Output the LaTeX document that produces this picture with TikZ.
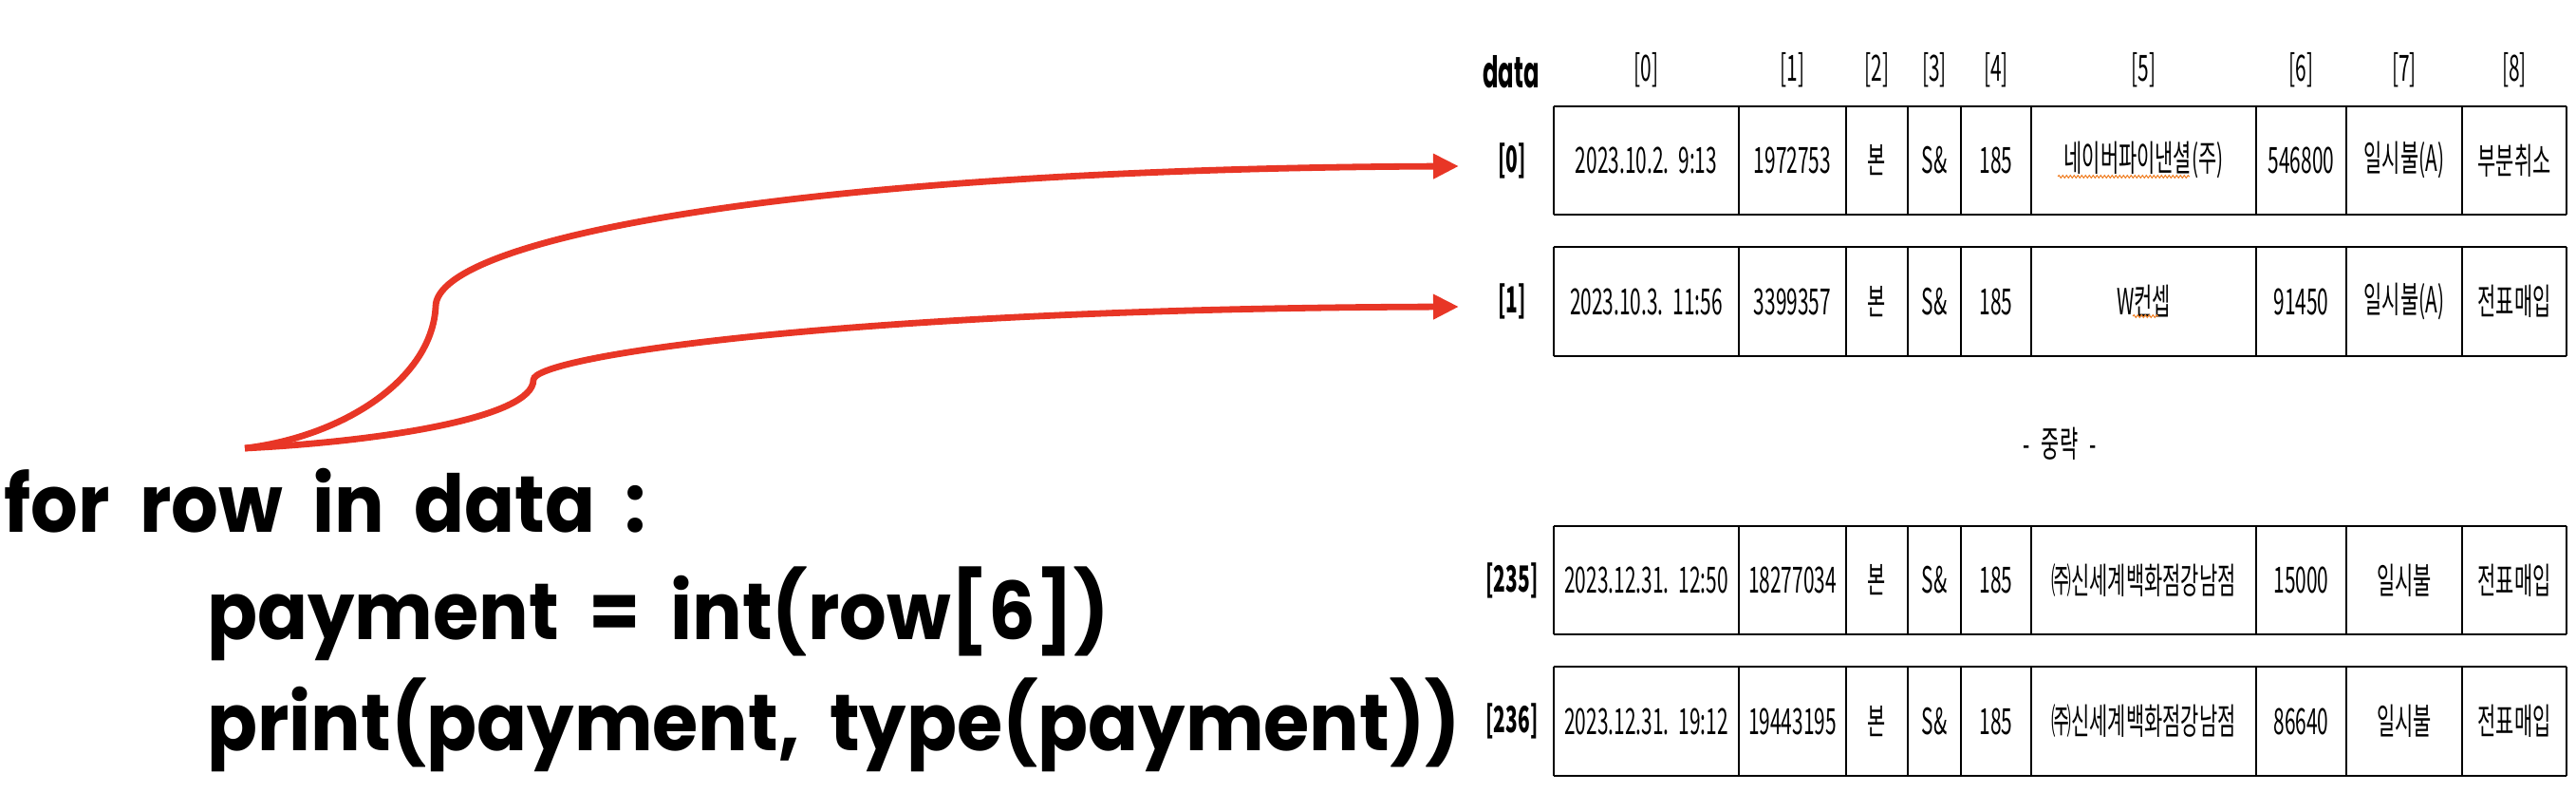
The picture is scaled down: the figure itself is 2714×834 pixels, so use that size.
\documentclass[tikz,border=0pt]{standalone}
\usepackage{fontspec}
\usetikzlibrary{arrows.meta,decorations.pathmorphing}
\newfontfamily\tblfont[FakeStretch=0.55]{Noto Sans CJK KR}
\newfontfamily\codefont[FakeStretch=0.93,WordSpace=1.9]{Poppins}
\newfontfamily\datafont[FakeStretch=0.53]{Poppins}
\definecolor{arrred}{RGB}{232,54,38}
\definecolor{squigor}{RGB}{240,130,40}
\newcommand\myrow[4]{%
  \draw[hline] (1637,#2) -- (2704,#2) (1637,#3) -- (2704,#3);
  \foreach \x in {1637,1832,1945,2010,2066,2140,2377,2472,2594,2704}
    \draw[vline] (\x,#2) -- (\x,#3);
  \node[rowlbl] (#1lbl) at (1593,{(#2+#3)/2}) {#4};
}
\newcommand\mycells[3]{%
  \foreach \t [count=\i from 0] in {#3} {
    \pgfmathsetmacro\cx{{1734.5,1888.5,1977.5,2038,2103,2258.5,2424.5,2533,2649}[\i]}
    \node[cell] (#1c\i) at (\cx,#2) {\t};
  }
}
\begin{document}
\begin{tikzpicture}[x=0.5pt,y=-0.5pt,
  cell/.style={font=\tblfont\fontsize{19}{22}\selectfont, inner sep=0pt, anchor=center},
  rowlbl/.style={cell, font=\tblfont\bfseries\fontsize{19}{22}\selectfont},
  code/.style={font=\codefont\bfseries\fontsize{42}{48}\selectfont, anchor=base west, inner sep=0pt},
  arr/.style={draw=arrred, line width=3.4pt, -{Triangle[length=13.5pt,width=12.5pt]}},
  hline/.style={line width=1.3pt},
  vline/.style={line width=0.9pt},
  squig/.style={draw=squigor, line width=0.5pt, decorate, decoration={snake, amplitude=0.7pt, segment length=2pt}}]
\fill[white] (0,0) rectangle (2714,834);
\useasboundingbox (0,0) rectangle (2714,834);

% header
\node[font=\datafont\bfseries\fontsize{23}{26}\selectfont, inner sep=0pt, anchor=base] (datalbl) at (1592,93) {data};
\foreach \t [count=\i from 0] in {[0],[1],[2],[3],[4],[5],[6],[7],[8]} {
  \pgfmathsetmacro\cx{{1734.5,1888.5,1977.5,2038,2103,2258.5,2424.5,2533,2649}[\i]}
  \node[cell] (h\i) at (\cx,74) {\t};
}

% rows
\myrow{r0}{112}{226}{[0]}
\mycells{r0}{169}{{2023.10.2.\hspace{5pt}9:13},1972753,본,S\&,185,네이버파이낸셜(주),546800,일시불(A),부분취소}
\myrow{r1}{260}{375}{[1]}
\mycells{r1}{317.5}{{2023.10.3.\hspace{5pt}11:56},3399357,본,S\&,185,W컨셉,91450,일시불(A),전표매입}
\node[cell] (omit) at (2170,467) {-\hspace{6pt}중략\hspace{6pt}-};
\myrow{r235}{554}{668}{[235]}
\mycells{r235}{611}{{2023.12.31.\hspace{5pt}12:50},18277034,본,S\&,185,㈜신세계백화점강남점,15000,일시불,전표매입}
\myrow{r236}{702}{817}{[236]}
\mycells{r236}{759.5}{{2023.12.31.\hspace{5pt}19:12},19443195,본,S\&,185,㈜신세계백화점강남점,86640,일시불,전표매입}

% spell-check squiggles
\draw[squig] (2168,186) -- (2307,186);
\draw[squig] (2247,333) -- (2274,333);

% code
\node[code] (l1) at (4,560) {for row in data :};
\node[code] (l2) at (218,673) {payment = int(row[6])};
\node[code] (l3) at (218,790) {print(payment, type(payment))};

% arrows
\coordinate (s) at (258,472);
\coordinate (t0) at (1537,175);
\coordinate (t1) at (1537,323);
\draw[arr] (s) .. controls (360,460) and (455,400) .. (459,323) .. controls (459,250) and (850,178) .. (t0);
\draw[arr] (s) .. controls (400,465) and (562,440) .. (562,400) .. controls (562,375) and (900,325) .. (t1);
\end{tikzpicture}
\end{document}
